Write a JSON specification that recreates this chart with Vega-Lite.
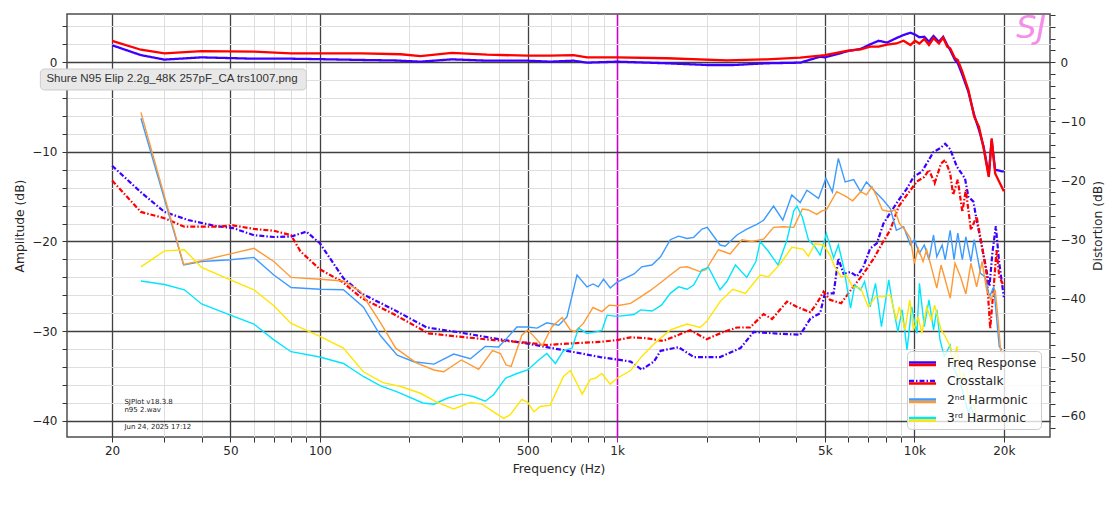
{
  "$schema": "https://vega.github.io/schema/vega-lite/v6.json",
  "width": 983,
  "height": 423,
  "autosize": {"type": "none"},
  "padding": {"left": 67, "top": 14, "right": 65, "bottom": 70},
  "background": "#ffffff",
  "title": {"text": "SJ", "orient": "top", "anchor": "end", "frame": "group", "offset": -36, "dx": -4, "font": "DejaVu Sans", "fontSize": 32, "fontStyle": "italic", "fontWeight": "normal", "color": "#f58ee8"},
  "datasets": {
    "fr_L": [{"f":20,"db":1.9},{"f":25,"db":0.8},{"f":30,"db":0.3},{"f":40,"db":0.55},{"f":60,"db":0.4},{"f":80,"db":0.4},{"f":100,"db":0.35},{"f":138,"db":0.26},{"f":180,"db":0.2},{"f":218,"db":0.07},{"f":278,"db":0.33},{"f":365,"db":0.18},{"f":500,"db":0.18},{"f":596,"db":0.07},{"f":713,"db":0.18},{"f":792,"db":-0.04},{"f":1000,"db":0.07},{"f":1470,"db":-0.11},{"f":2000,"db":-0.3},{"f":2470,"db":-0.3},{"f":3190,"db":-0.11},{"f":4130,"db":-0.04},{"f":4820,"db":0.63},{"f":5000,"db":0.55},{"f":5500,"db":0.9},{"f":5980,"db":1.26},{"f":6600,"db":1.49},{"f":7100,"db":2.0},{"f":7580,"db":2.4},{"f":8100,"db":2.2},{"f":8700,"db":2.7},{"f":9200,"db":3.05},{"f":9700,"db":3.3},{"f":10050,"db":3.1},{"f":10400,"db":2.8},{"f":10800,"db":2.85},{"f":11200,"db":2.3},{"f":11600,"db":2.93},{"f":12100,"db":2.3},{"f":12500,"db":2.85},{"f":12900,"db":1.93},{"f":13200,"db":1.37},{"f":13700,"db":0.26},{"f":14000,"db":-0.1},{"f":14500,"db":-1.4},{"f":15200,"db":-3.3},{"f":15900,"db":-5.9},{"f":16500,"db":-7.55},{"f":17100,"db":-9.4},{"f":17800,"db":-12.6},{"f":18200,"db":-8.7},{"f":18700,"db":-12.0},{"f":20000,"db":-12.2}],
    "fr_R": [{"f":20,"db":2.4},{"f":25,"db":1.4},{"f":30,"db":1.0},{"f":40,"db":1.25},{"f":60,"db":1.2},{"f":80,"db":1.0},{"f":100,"db":1.0},{"f":138,"db":1.0},{"f":187,"db":0.9},{"f":218,"db":0.7},{"f":278,"db":1.04},{"f":365,"db":0.85},{"f":500,"db":0.74},{"f":596,"db":0.75},{"f":713,"db":0.8},{"f":792,"db":0.55},{"f":1000,"db":0.55},{"f":1470,"db":0.45},{"f":2340,"db":0.22},{"f":3190,"db":0.33},{"f":4130,"db":0.52},{"f":4820,"db":0.74},{"f":5000,"db":0.81},{"f":5980,"db":1.3},{"f":6600,"db":1.45},{"f":7100,"db":1.74},{"f":7580,"db":1.74},{"f":8100,"db":1.97},{"f":8700,"db":2.1},{"f":9200,"db":2.4},{"f":9700,"db":1.93},{"f":10050,"db":2.4},{"f":10400,"db":2.1},{"f":10800,"db":2.6},{"f":11200,"db":1.93},{"f":11600,"db":2.7},{"f":12100,"db":2.1},{"f":12500,"db":2.75},{"f":12900,"db":1.74},{"f":13200,"db":1.56},{"f":13700,"db":0.45},{"f":14000,"db":0.26},{"f":14500,"db":-1.05},{"f":15200,"db":-3.1},{"f":15900,"db":-6.07},{"f":16500,"db":-7.2},{"f":17100,"db":-9.6},{"f":17800,"db":-12.8},{"f":18200,"db":-8.5},{"f":18700,"db":-12.4},{"f":20000,"db":-14.4}],
    "xt_L": [{"f":20,"db":-11.55},{"f":24.9,"db":-14.45},{"f":30,"db":-16.7},{"f":36,"db":-17.6},{"f":45,"db":-18.3},{"f":51,"db":-18.5},{"f":60,"db":-19.3},{"f":70,"db":-19.5},{"f":80,"db":-19.45},{"f":90,"db":-18.9},{"f":100,"db":-20.2},{"f":120,"db":-24.1},{"f":138,"db":-25.8},{"f":177,"db":-27.6},{"f":229,"db":-29.6},{"f":289,"db":-30.1},{"f":384,"db":-30.8},{"f":500,"db":-31.4},{"f":678,"db":-32.2},{"f":878,"db":-32.9},{"f":1110,"db":-33.4},{"f":1210,"db":-34.3},{"f":1330,"db":-33.4},{"f":1400,"db":-32.2},{"f":1610,"db":-31.8},{"f":1810,"db":-32.9},{"f":2220,"db":-32.9},{"f":2600,"db":-31.9},{"f":2880,"db":-30.1},{"f":3540,"db":-30.3},{"f":4130,"db":-30.4},{"f":4470,"db":-28.6},{"f":4820,"db":-28.0},{"f":5000,"db":-25.8},{"f":5350,"db":-25.8},{"f":5550,"db":-21.9},{"f":5780,"db":-23.6},{"f":6100,"db":-23.4},{"f":6410,"db":-23.9},{"f":6740,"db":-22.8},{"f":7100,"db":-20.8},{"f":7480,"db":-20.2},{"f":7870,"db":-18.0},{"f":8410,"db":-16.5},{"f":8850,"db":-15.4},{"f":9440,"db":-14.1},{"f":9930,"db":-12.8},{"f":10600,"db":-12.2},{"f":11000,"db":-11.3},{"f":11600,"db":-10.0},{"f":12200,"db":-9.6},{"f":12700,"db":-9.1},{"f":13200,"db":-9.7},{"f":13900,"db":-11.65},{"f":14800,"db":-12.95},{"f":15200,"db":-15.0},{"f":15800,"db":-15.55},{"f":16200,"db":-17.6},{"f":16700,"db":-19.8},{"f":17300,"db":-22.4},{"f":17900,"db":-25.0},{"f":18300,"db":-21.3},{"f":18800,"db":-18.3},{"f":19300,"db":-22.4},{"f":20000,"db":-26.2}],
    "xt_R": [{"f":20,"db":-13.2},{"f":25,"db":-16.7},{"f":30,"db":-17.4},{"f":35,"db":-18.35},{"f":45,"db":-18.35},{"f":51,"db":-18.2},{"f":60,"db":-18.6},{"f":70,"db":-18.8},{"f":80,"db":-19.3},{"f":86,"db":-21.1},{"f":100,"db":-23.1},{"f":119,"db":-24.5},{"f":138,"db":-26.3},{"f":177,"db":-28.1},{"f":232,"db":-30.25},{"f":289,"db":-30.6},{"f":384,"db":-31.0},{"f":500,"db":-31.3},{"f":580,"db":-31.55},{"f":678,"db":-31.4},{"f":878,"db":-31.2},{"f":1000,"db":-31.0},{"f":1110,"db":-30.7},{"f":1260,"db":-30.8},{"f":1430,"db":-31.1},{"f":1760,"db":-29.9},{"f":2000,"db":-30.9},{"f":2280,"db":-30.1},{"f":2530,"db":-29.6},{"f":2800,"db":-29.6},{"f":3110,"db":-28.1},{"f":3320,"db":-28.65},{"f":3730,"db":-26.7},{"f":4030,"db":-27.3},{"f":4470,"db":-27.9},{"f":4700,"db":-26.9},{"f":4950,"db":-25.6},{"f":5200,"db":-26.5},{"f":5670,"db":-26.9},{"f":6250,"db":-25.0},{"f":6740,"db":-23.6},{"f":7300,"db":-21.9},{"f":7800,"db":-20.2},{"f":8300,"db":-18.7},{"f":8850,"db":-16.1},{"f":9440,"db":-14.8},{"f":10200,"db":-13.3},{"f":10800,"db":-12.8},{"f":11200,"db":-12.0},{"f":11700,"db":-13.5},{"f":12300,"db":-11.3},{"f":12700,"db":-10.9},{"f":13200,"db":-12.4},{"f":13500,"db":-14.8},{"f":14000,"db":-13.1},{"f":14500,"db":-16.7},{"f":14900,"db":-14.25},{"f":15500,"db":-18.7},{"f":16200,"db":-17.2},{"f":16900,"db":-20.6},{"f":17500,"db":-23.6},{"f":18000,"db":-29.7},{"f":18500,"db":-25.0},{"f":18900,"db":-20.95},{"f":19300,"db":-23.9},{"f":20000,"db":-25.0}],
    "h2_L": [{"f":25,"db":-9.5},{"f":34.8,"db":-34.4},{"f":40,"db":-33.8},{"f":50,"db":-33.5},{"f":60,"db":-33.1},{"f":70,"db":-36.1},{"f":80,"db":-38.2},{"f":100,"db":-38.5},{"f":120,"db":-38.6},{"f":140,"db":-41.5},{"f":160,"db":-46.4},{"f":182,"db":-49.7},{"f":207,"db":-50.8},{"f":242,"db":-51.2},{"f":282,"db":-49.5},{"f":321,"db":-50.3},{"f":360,"db":-48.2},{"f":399,"db":-48.3},{"f":426,"db":-46.8},{"f":460,"db":-44.9},{"f":500,"db":-44.9},{"f":538,"db":-45.1},{"f":580,"db":-44.2},{"f":636,"db":-44.6},{"f":678,"db":-43.2},{"f":733,"db":-36.1},{"f":792,"db":-38.1},{"f":830,"db":-37.6},{"f":864,"db":-38.1},{"f":900,"db":-36.8},{"f":948,"db":-38.3},{"f":1000,"db":-37.3},{"f":1140,"db":-35.9},{"f":1210,"db":-34.7},{"f":1310,"db":-34.4},{"f":1400,"db":-33.0},{"f":1510,"db":-30.1},{"f":1610,"db":-29.5},{"f":1720,"db":-29.9},{"f":1810,"db":-29.7},{"f":1930,"db":-28.3},{"f":2010,"db":-28.0},{"f":2220,"db":-31.0},{"f":2310,"db":-31.2},{"f":2530,"db":-29.3},{"f":2730,"db":-28.3},{"f":2950,"db":-27.5},{"f":3110,"db":-26.8},{"f":3360,"db":-24.4},{"f":3610,"db":-26.8},{"f":3870,"db":-22.5},{"f":4130,"db":-23.8},{"f":4350,"db":-21.7},{"f":4760,"db":-23.1},{"f":5040,"db":-19.7},{"f":5300,"db":-22.0},{"f":5550,"db":-16.3},{"f":5850,"db":-20.3},{"f":6250,"db":-19.9},{"f":6600,"db":-22.0},{"f":6900,"db":-20.3},{"f":7400,"db":-22.0},{"f":7870,"db":-23.4},{"f":8300,"db":-24.8},{"f":8700,"db":-28.5},{"f":9200,"db":-27.9},{"f":9700,"db":-31.0},{"f":10000,"db":-30.1},{"f":10400,"db":-32.4},{"f":10800,"db":-31.0},{"f":11200,"db":-33.5},{"f":11600,"db":-29.3},{"f":11900,"db":-33.0},{"f":12400,"db":-31.0},{"f":12700,"db":-33.5},{"f":13200,"db":-28.5},{"f":13600,"db":-33.5},{"f":14000,"db":-29.0},{"f":14500,"db":-33.5},{"f":14900,"db":-29.6},{"f":15500,"db":-33.8},{"f":15900,"db":-30.1},{"f":16700,"db":-35.8},{"f":17300,"db":-36.4},{"f":17900,"db":-39.8},{"f":18500,"db":-38.1},{"f":18900,"db":-43.2},{"f":19300,"db":-48.2},{"f":19700,"db":-48.8}],
    "h2_R": [{"f":25,"db":-8.5},{"f":34.8,"db":-34.3},{"f":40,"db":-33.65},{"f":50,"db":-32.5},{"f":60,"db":-31.55},{"f":70,"db":-33.8},{"f":80,"db":-36.5},{"f":100,"db":-36.8},{"f":120,"db":-37.1},{"f":137,"db":-38.9},{"f":160,"db":-44.2},{"f":180,"db":-48.5},{"f":211,"db":-51.0},{"f":242,"db":-52.2},{"f":261,"db":-52.5},{"f":299,"db":-50.5},{"f":342,"db":-52.1},{"f":381,"db":-48.9},{"f":405,"db":-49.4},{"f":423,"db":-51.35},{"f":440,"db":-51.6},{"f":478,"db":-46.3},{"f":500,"db":-45.4},{"f":525,"db":-46.5},{"f":560,"db":-48.1},{"f":604,"db":-44.85},{"f":653,"db":-43.3},{"f":696,"db":-45.4},{"f":720,"db":-45.7},{"f":770,"db":-44.3},{"f":830,"db":-41.6},{"f":889,"db":-42.3},{"f":940,"db":-41.2},{"f":1000,"db":-41.3},{"f":1110,"db":-40.9},{"f":1200,"db":-39.8},{"f":1290,"db":-38.75},{"f":1400,"db":-37.4},{"f":1510,"db":-36.1},{"f":1630,"db":-34.8},{"f":1720,"db":-34.7},{"f":1900,"db":-35.5},{"f":1990,"db":-35.2},{"f":2190,"db":-31.8},{"f":2280,"db":-32.1},{"f":2400,"db":-32.5},{"f":2630,"db":-30.1},{"f":2840,"db":-30.4},{"f":3110,"db":-30.0},{"f":3360,"db":-28.0},{"f":3630,"db":-27.9},{"f":3930,"db":-28.0},{"f":4200,"db":-24.9},{"f":4400,"db":-25.05},{"f":4700,"db":-25.8},{"f":4880,"db":-25.2},{"f":5060,"db":-25.05},{"f":5480,"db":-21.95},{"f":5900,"db":-22.8},{"f":6200,"db":-23.5},{"f":6600,"db":-21.95},{"f":6900,"db":-22.5},{"f":7200,"db":-21.1},{"f":7480,"db":-22.8},{"f":7800,"db":-25.05},{"f":8200,"db":-25.3},{"f":8600,"db":-25.05},{"f":8900,"db":-27.3},{"f":9300,"db":-28.45},{"f":9700,"db":-29.9},{"f":10000,"db":-34.1},{"f":10300,"db":-31.55},{"f":10700,"db":-33.8},{"f":11000,"db":-31.8},{"f":11400,"db":-34.7},{"f":11900,"db":-38.3},{"f":12300,"db":-34.4},{"f":12700,"db":-36.9},{"f":13200,"db":-40.0},{"f":13700,"db":-34.1},{"f":14300,"db":-36.4},{"f":14900,"db":-39.3},{"f":15500,"db":-34.1},{"f":16200,"db":-38.1},{"f":16900,"db":-33.8},{"f":17500,"db":-38.6},{"f":18100,"db":-40.3},{"f":18700,"db":-38.6},{"f":19100,"db":-43.2},{"f":19500,"db":-48.8},{"f":19800,"db":-49.5}],
    "h3_L": [{"f":25,"db":-37.1},{"f":30,"db":-37.7},{"f":35,"db":-38.6},{"f":40,"db":-41.0},{"f":50,"db":-42.9},{"f":60,"db":-44.4},{"f":70,"db":-47.1},{"f":80,"db":-49.1},{"f":100,"db":-50.0},{"f":120,"db":-51.1},{"f":140,"db":-53.3},{"f":160,"db":-54.9},{"f":182,"db":-55.9},{"f":222,"db":-57.8},{"f":242,"db":-58.0},{"f":268,"db":-57.0},{"f":299,"db":-56.3},{"f":328,"db":-56.7},{"f":360,"db":-57.5},{"f":384,"db":-56.4},{"f":421,"db":-53.6},{"f":460,"db":-52.8},{"f":500,"db":-52.2},{"f":545,"db":-50.5},{"f":580,"db":-49.4},{"f":620,"db":-51.1},{"f":660,"db":-48.9},{"f":705,"db":-48.5},{"f":742,"db":-45.1},{"f":792,"db":-46.0},{"f":855,"db":-45.7},{"f":889,"db":-45.5},{"f":925,"db":-42.9},{"f":1000,"db":-43.1},{"f":1140,"db":-42.8},{"f":1200,"db":-42.0},{"f":1310,"db":-42.2},{"f":1410,"db":-41.2},{"f":1510,"db":-39.2},{"f":1610,"db":-38.1},{"f":1720,"db":-38.5},{"f":1810,"db":-37.8},{"f":1930,"db":-35.2},{"f":2030,"db":-34.8},{"f":2220,"db":-38.6},{"f":2340,"db":-37.2},{"f":2500,"db":-34.4},{"f":2730,"db":-36.5},{"f":2930,"db":-33.8},{"f":3030,"db":-30.4},{"f":3230,"db":-32.1},{"f":3480,"db":-34.4},{"f":3730,"db":-30.1},{"f":3930,"db":-25.2},{"f":4030,"db":-24.4},{"f":4200,"db":-26.3},{"f":4400,"db":-30.1},{"f":4630,"db":-31.3},{"f":4820,"db":-32.7},{"f":5060,"db":-29.1},{"f":5350,"db":-33.2},{"f":5550,"db":-31.0},{"f":5780,"db":-34.7},{"f":6100,"db":-41.7},{"f":6300,"db":-37.8},{"f":6600,"db":-38.6},{"f":6800,"db":-37.2},{"f":7100,"db":-41.5},{"f":7400,"db":-37.5},{"f":7750,"db":-44.85},{"f":8200,"db":-36.9},{"f":8400,"db":-40.3},{"f":8800,"db":-45.7},{"f":9100,"db":-42.0},{"f":9450,"db":-48.8},{"f":9800,"db":-41.5},{"f":10200,"db":-46.0},{"f":10400,"db":-37.5},{"f":10800,"db":-44.85},{"f":11200,"db":-40.3},{"f":11600,"db":-45.4},{"f":11900,"db":-42.0},{"f":12200,"db":-47.1},{"f":12600,"db":-49.9},{"f":13200,"db":-48.0},{"f":13500,"db":-51.6},{"f":14000,"db":-53.3},{"f":14500,"db":-55.6},{"f":15200,"db":-59.5},{"f":15500,"db":-58.4},{"f":16000,"db":-60.5}],
    "h3_R": [{"f":25,"db":-34.7},{"f":30,"db":-32.0},{"f":35,"db":-31.8},{"f":40,"db":-34.8},{"f":50,"db":-36.9},{"f":60,"db":-38.6},{"f":70,"db":-41.3},{"f":80,"db":-44.3},{"f":100,"db":-46.5},{"f":120,"db":-48.5},{"f":140,"db":-52.5},{"f":163,"db":-54.35},{"f":187,"db":-55.0},{"f":218,"db":-56.15},{"f":248,"db":-57.7},{"f":282,"db":-58.8},{"f":321,"db":-57.7},{"f":351,"db":-58.0},{"f":384,"db":-59.3},{"f":415,"db":-60.4},{"f":437,"db":-59.8},{"f":478,"db":-57.2},{"f":500,"db":-57.7},{"f":525,"db":-59.3},{"f":551,"db":-58.4},{"f":595,"db":-58.2},{"f":660,"db":-53.3},{"f":696,"db":-52.3},{"f":733,"db":-54.5},{"f":763,"db":-56.3},{"f":812,"db":-53.8},{"f":844,"db":-53.6},{"f":889,"db":-52.8},{"f":948,"db":-54.6},{"f":1000,"db":-53.6},{"f":1110,"db":-52.3},{"f":1210,"db":-49.9},{"f":1330,"db":-47.8},{"f":1400,"db":-46.8},{"f":1510,"db":-45.4},{"f":1720,"db":-44.4},{"f":1900,"db":-45.0},{"f":2000,"db":-44.0},{"f":2220,"db":-40.6},{"f":2450,"db":-38.5},{"f":2700,"db":-39.2},{"f":3030,"db":-36.1},{"f":3230,"db":-36.4},{"f":3540,"db":-34.2},{"f":3870,"db":-31.4},{"f":4220,"db":-31.7},{"f":4400,"db":-32.9},{"f":4630,"db":-30.8},{"f":4950,"db":-31.0},{"f":5200,"db":-32.7},{"f":5400,"db":-34.7},{"f":5670,"db":-36.4},{"f":5900,"db":-36.1},{"f":6200,"db":-38.1},{"f":6600,"db":-38.3},{"f":7000,"db":-41.5},{"f":7400,"db":-39.8},{"f":7800,"db":-39.8},{"f":8300,"db":-39.5},{"f":8700,"db":-43.7},{"f":8900,"db":-41.5},{"f":9300,"db":-45.4},{"f":9650,"db":-40.3},{"f":9930,"db":-45.4},{"f":10300,"db":-43.2},{"f":10600,"db":-46.0},{"f":11000,"db":-41.5},{"f":11400,"db":-43.7},{"f":11700,"db":-41.2},{"f":12300,"db":-45.4},{"f":12700,"db":-46.5},{"f":13200,"db":-48.2},{"f":13500,"db":-51.1},{"f":13900,"db":-48.2},{"f":14300,"db":-53.9},{"f":14700,"db":-52.8},{"f":15200,"db":-56.7},{"f":15900,"db":-58.4},{"f":16500,"db":-61.0}],
    "stamp": [{"f":22,"db":-37.88,"text":"SJPlot v18.3.8"},{"f":22,"db":-38.84,"text":"n95 2.wav"},{"f":22,"db":-40.74,"text":"Jun 24, 2025 17:12"}],
    "note_box": [{"f":11.47,"f2":90.05,"db":-0.75,"db2":-3.09}],
    "note_text": [{"f":12.02,"db":-1.92,"text":"Shure N95 Elip 2.2g_48K 257pF_CA trs1007.png"}]
  },
  "encoding": {
    "x": {
      "field": "f",
      "type": "quantitative",
      "scale": {"type": "log", "domain": [14.1, 28600], "nice": false},
      "axis": {
        "title": "Frequency (Hz)",
        "values": [20,30,40,50,60,70,80,90,100,200,300,400,500,600,700,800,900,1000,2000,3000,4000,5000,6000,7000,8000,9000,10000,20000],
        "labelExpr": "indexof([20,50,100,500,1000,5000,10000,20000], datum.value) >= 0 ? (datum.value >= 1000 ? (datum.value / 1000) + 'k' : '' + datum.value) : ''",
        "grid": true,
        "gridColor": {"condition": [{"test": "datum.value === 1000", "value": "#cc00cc"}, {"test": "indexof([20,50,100,500,5000,10000,20000], datum.value) >= 0", "value": "#404040"}], "value": "#dedede"},
        "gridWidth": {"condition": [{"test": "datum.value === 1000", "value": 1.6}, {"test": "indexof([20,50,100,500,5000,10000,20000], datum.value) >= 0", "value": 1.3}], "value": 1},
        "tickColor": {"condition": {"test": "datum.value === 1000", "value": "#cc00cc"}, "value": "#333333"},
        "labelPadding": 3,
        "titlePadding": 6
      }
    }
  },
  "layer": [
    {
      "encoding": {
        "y": {
          "field": "db",
          "type": "quantitative",
          "scale": {"domain": [-41.82, 5.39], "nice": false, "zero": false},
          "axis": {
            "orient": "left",
            "title": "Amplitude (dB)",
            "values": [-40,-38,-36,-34,-32,-30,-28,-26,-24,-22,-20,-18,-16,-14,-12,-10,-8,-6,-4,-2,0,2,4],
            "format": "d",
            "labelExpr": "datum.value % 10 === 0 ? datum.label : ''",
            "grid": true,
            "gridColor": {"condition": {"test": "datum.value % 10 === 0", "value": "#404040"}, "value": "#dedede"},
            "gridWidth": {"condition": {"test": "datum.value % 10 === 0", "value": 1.3}, "value": 1},
            "labelPadding": 5,
            "titlePadding": 5
          }
        }
      },
      "layer": [
        {
          "data": {"name": "fr_L"},
          "mark": {"type": "line", "strokeWidth": 2.3},
          "encoding": {
            "color": {
              "datum": "Freq Response",
              "type": "nominal",
              "scale": {"domain": ["Freq Response", "Crosstalk", "2nd Harmonic", "3rd Harmonic"], "range": ["#3d00ff", "#3d00ff", "#3d9bff", "#00e5ff"]},
              "legend": {
                "title": null,
                "orient": "none",
                "legendX": 840,
                "legendY": 337,
                "direction": "vertical",
                "symbolType": "M-2.5,0H2.5",
                "symbolSize": 116.6,
                "symbolStrokeWidth": 2.5,
                "symbolOffset": 4,
                "labelOffset": 17.5,
                "labelFont": "DejaVu Sans",
                "labelFontSize": 12.3,
                "labelColor": "#262626",
                "labelLimit": 300,
                "rowPadding": 4.5,
                "padding": 4.5,
                "fillColor": "rgba(255,255,255,0.8)",
                "strokeColor": "#cccccc",
                "cornerRadius": 4,
                "labelExpr": "datum.label === '2nd Harmonic' ? '2ⁿᵈ Harmonic' : datum.label === '3rd Harmonic' ? '3ʳᵈ Harmonic' : datum.label"
              }
            },
            "strokeDash": {
              "datum": "Freq Response",
              "type": "nominal",
              "scale": {"domain": ["Freq Response", "Crosstalk", "2nd Harmonic", "3rd Harmonic"], "range": [[1, 0], [5, 2, 1.5, 2], [1, 0], [1, 0]]}
            }
          }
        },
        {
          "data": {"name": "fr_R"},
          "mark": {"type": "line", "strokeWidth": 2.3},
          "encoding": {
            "stroke": {
              "datum": "Freq Response",
              "type": "nominal",
              "scale": {"domain": ["Freq Response", "Crosstalk", "2nd Harmonic", "3rd Harmonic", "extra"], "range": ["#ff0000", "#ff0000", "#ff9933", "#ffe600", "#ffffff"]},
              "legend": {
                "title": null,
                "orient": "none",
                "legendX": 840,
                "legendY": 339.5,
                "direction": "vertical",
                "values": ["Freq Response", "Crosstalk", "2nd Harmonic", "3rd Harmonic"],
                "symbolType": "M-2.5,0H2.5",
                "symbolSize": 116.6,
                "symbolStrokeWidth": 2.5,
                "symbolOffset": 4,
                "labelOffset": 17.5,
                "labelFont": "DejaVu Sans",
                "labelFontSize": 12.3,
                "labelLimit": 300,
                "rowPadding": 4.5,
                "padding": 4.5,
                "labelExpr": "''"
              }
            }
          }
        },
        {
          "data": {"name": "xt_L"},
          "mark": {"type": "line", "strokeWidth": 2.2},
          "encoding": {
            "color": {"datum": "Crosstalk", "type": "nominal", "scale": {"domain": ["Freq Response", "Crosstalk", "2nd Harmonic", "3rd Harmonic"], "range": ["#3d00ff", "#3d00ff", "#3d9bff", "#00e5ff"]}, "legend": null},
            "strokeDash": {"datum": "Crosstalk", "type": "nominal", "scale": {"domain": ["Freq Response", "Crosstalk", "2nd Harmonic", "3rd Harmonic"], "range": [[1, 0], [5, 2, 1.5, 2], [1, 0], [1, 0]]}}
          }
        },
        {
          "data": {"name": "xt_R"},
          "mark": {"type": "line", "strokeWidth": 2.2, "strokeDash": [5, 2, 1.5, 2]},
          "encoding": {
            "stroke": {"datum": "Crosstalk", "type": "nominal", "scale": {"domain": ["Freq Response", "Crosstalk", "2nd Harmonic", "3rd Harmonic", "extra"], "range": ["#ff0000", "#ff0000", "#ff9933", "#ffe600", "#ffffff"]}, "legend": null}
          }
        },
        {
          "data": {"name": "stamp"},
          "mark": {"type": "text", "align": "left", "baseline": "middle", "font": "DejaVu Sans", "fontSize": 7, "color": "#222222"},
          "encoding": {"text": {"field": "text"}}
        },
        {
          "data": {"name": "note_box"},
          "mark": {"type": "rect", "fill": "#e8e8e8", "stroke": "#cdcdcd", "strokeWidth": 1, "cornerRadius": 4},
          "encoding": {"x2": {"field": "f2"}, "y2": {"field": "db2"}}
        },
        {
          "data": {"name": "note_text"},
          "mark": {"type": "text", "align": "left", "baseline": "middle", "font": "Liberation Sans", "fontSize": 11.5, "color": "#333333"},
          "encoding": {"text": {"field": "text"}}
        }
      ]
    },
    {
      "encoding": {
        "y": {
          "field": "db",
          "type": "quantitative",
          "scale": {"domain": [-63.57, 8.19], "nice": false, "zero": false},
          "axis": {
            "orient": "right",
            "title": "Distortion (dB)",
            "values": [-62,-60,-58,-56,-54,-52,-50,-48,-46,-44,-42,-40,-38,-36,-34,-32,-30,-28,-26,-24,-22,-20,-18,-16,-14,-12,-10,-8,-6,-4,-2,0,2,4,6,8],
            "format": "d",
            "labelExpr": "datum.value % 10 === 0 ? datum.label : ''",
            "grid": false,
            "labelPadding": 5,
            "titlePadding": 6,
            "titleAngle": 270,
            "titleBaseline": "top"
          }
        }
      },
      "layer": [
        {
          "data": {"name": "h2_L"},
          "mark": {"type": "line", "strokeWidth": 1.4},
          "encoding": {"color": {"datum": "2nd Harmonic", "type": "nominal", "scale": {"domain": ["Freq Response", "Crosstalk", "2nd Harmonic", "3rd Harmonic"], "range": ["#3d00ff", "#3d00ff", "#3d9bff", "#00e5ff"]}, "legend": null}}
        },
        {
          "data": {"name": "h2_R"},
          "mark": {"type": "line", "strokeWidth": 1.4},
          "encoding": {"stroke": {"datum": "2nd Harmonic", "type": "nominal", "scale": {"domain": ["Freq Response", "Crosstalk", "2nd Harmonic", "3rd Harmonic", "extra"], "range": ["#ff0000", "#ff0000", "#ff9933", "#ffe600", "#ffffff"]}, "legend": null}}
        },
        {
          "data": {"name": "h3_L"},
          "mark": {"type": "line", "strokeWidth": 1.4},
          "encoding": {"color": {"datum": "3rd Harmonic", "type": "nominal", "scale": {"domain": ["Freq Response", "Crosstalk", "2nd Harmonic", "3rd Harmonic"], "range": ["#3d00ff", "#3d00ff", "#3d9bff", "#00e5ff"]}, "legend": null}}
        },
        {
          "data": {"name": "h3_R"},
          "mark": {"type": "line", "strokeWidth": 1.4},
          "encoding": {"stroke": {"datum": "3rd Harmonic", "type": "nominal", "scale": {"domain": ["Freq Response", "Crosstalk", "2nd Harmonic", "3rd Harmonic", "extra"], "range": ["#ff0000", "#ff0000", "#ff9933", "#ffe600", "#ffffff"]}, "legend": null}}
        }
      ]
    }
  ],
  "resolve": {"scale": {"y": "independent"}},
  "config": {
    "font": "DejaVu Sans",
    "view": {"stroke": "#4d4d4d", "strokeWidth": 1.5},
    "axis": {
      "domain": false,
      "labelFont": "DejaVu Sans",
      "titleFont": "DejaVu Sans",
      "labelFontSize": 12,
      "titleFontSize": 12.3,
      "titleFontWeight": "normal",
      "labelColor": "#262626",
      "titleColor": "#262626",
      "tickColor": "#333333",
      "tickSize": 5,
      "labelOverlap": false,
      "labelFlush": false,
      "labelBound": false
    }
  }
}
